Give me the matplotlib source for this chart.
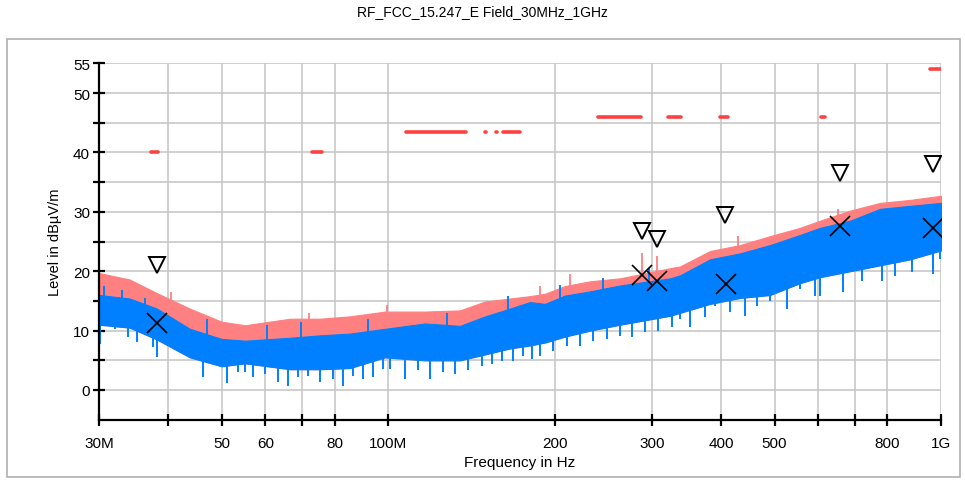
import matplotlib
matplotlib.use("Agg")
import matplotlib.pyplot as plt
from matplotlib.ticker import FixedLocator, FixedFormatter, NullFormatter
from matplotlib.patches import Rectangle

plt.rcParams['font.family'] = ['Liberation Sans', 'DejaVu Sans']

# ---- data (MHz, dBuV/m) ----
freq_mhz = [30, 34.1, 38.2, 43.8, 50, 55.1, 66.5, 75.3, 85.3, 98.7, 116.6, 134.9, 149.8,
            166.1, 180.5, 192.2, 208.9, 231.9, 262.7, 323.5, 337.3, 382.2, 432.9, 490.6,
            555.9, 604.2, 684.9, 775.9, 879.2, 1000]
peak_top = [19.7, 18.6, 16.3, 13.7, 11.5, 10.9, 12.0, 12.0, 12.4, 13.2, 13.2, 13.4, 14.9,
            15.4, 15.8, 16.2, 17.5, 18.3, 18.8, 20.5, 20.8, 23.4, 24.4, 25.9, 27.3, 28.5,
            30.2, 31.5, 32.0, 32.7]
avg_top = [16.0, 15.4, 13.7, 10.3, 8.6, 8.3, 8.8, 9.2, 9.5, 10.3, 11.2, 10.8, 12.4, 13.7,
           14.8, 14.5, 15.9, 16.6, 17.6, 18.8, 19.3, 22.0, 23.0, 24.4, 26.1, 27.3, 28.5,
           30.5, 31.0, 31.5]
avg_low = [11.0, 10.5, 8.5, 5.5, 4.0, 4.5, 3.5, 3.5, 3.7, 5.5, 5.0, 5.0, 6.0, 7.0, 7.5,
           8.0, 9.0, 10.0, 11.0, 12.5, 13.0, 14.5, 15.5, 16.0, 18.0, 19.0, 20.0, 21.0, 22.0,
           23.5]

# downward spikes of the average trace
dip_f = [30.1, 32.1, 33.9, 35.2, 37.5, 38.2, 41.6, 43.3, 46.3, 48.1, 51.1, 53.5,
         55.1, 56.9, 59.9, 63.2, 65.9, 68.7, 71.6, 75.3, 79.5, 82.9, 86.4, 90.1, 93.9, 97.9,
         100.8, 107.3, 113.3, 119.1, 125.7, 132.2, 139.5, 147.9, 154.1, 160.7, 168.2, 175.4,
         182.1,
         188.3, 198.7, 210.7, 222.4, 234.8, 248.9, 262.7, 276.1, 291.5, 307.8, 326.2,
         337.3, 351.6, 374.4, 390.3, 415.5, 442.2, 464.7, 490.6, 526.5, 555.9, 591.6,
         604.2, 665.1, 719.7, 782.4, 825.9, 886.5, 967.5, 996]
dip_lo = [7.8, 10.3, 9.0, 8.1, 7.3, 5.6, 6.9, 6.4, 2.2, 4.4, 1.1, 3.1,
          3.1, 2.2, 2.7, 1.4, 0.6, 2.2, 2.4, 1.4, 1.9, 0.6, 2.4, 1.9, 2.2, 3.6,
          3.6, 1.9, 3.3, 1.9, 3.1, 2.7, 3.3, 4.1, 4.4, 4.9, 4.8, 5.8, 5.3,
          5.8, 6.6, 7.4, 7.4, 8.3, 8.6, 9.1, 9.0, 9.8, 10.0, 10.6,
          11.9, 10.6, 12.3, 14.2, 13.2, 12.5, 14.2, 15.0, 13.7, 17.0, 15.9,
          15.9, 16.5, 18.4, 18.4, 19.2, 19.9, 19.6, 22.1]
dip_hi = [13.0, 13.0, 12.5, 12.0, 11.0, 10.0, 9.5, 9.0, 8.0, 7.0, 6.0, 6.0,
          6.0, 6.0, 5.5, 5.5, 5.5, 5.5, 5.5, 5.5, 5.5, 5.5, 5.5, 6.0, 6.5, 7.0,
          7.0, 7.0, 7.0, 7.0, 7.0, 7.0, 7.5, 8.0, 8.0, 8.5, 9.0, 9.5, 9.5,
          10.0, 10.5, 11.0, 11.5, 12.0, 12.5, 13.0, 13.5, 14.0, 14.5, 15.0,
          15.0, 15.5, 16.0, 16.5, 17.0, 17.5, 18.0, 18.5, 19.0, 19.5, 20.0,
          20.5, 21.0, 21.5, 22.0, 22.5, 23.0, 23.5, 24.0]

# upward spikes of the average trace (into the peak band)
bup_f = [30.6, 33.0, 36.4, 47.0, 60.5, 69.5, 92.0, 128.0, 165.0, 205.0, 245.0, 296.0]
bup_lo = [14.0, 13.5, 12.0, 8.0, 7.5, 8.0, 9.0, 10.0, 13.0, 15.0, 16.0, 18.0]
bup_hi = [17.5, 16.8, 15.5, 12.0, 11.0, 11.5, 12.0, 13.0, 15.8, 17.6, 18.8, 20.6]

# upward spikes of the peak trace
spk_f = [40.5, 72.0, 99.6, 188.0, 213.0, 287.9, 306.4, 430.0, 650.0]
spk_lo = [13.0, 10.0, 11.0, 14.5, 16.0, 18.0, 17.5, 22.0, 27.0]
spk_hi = [16.5, 13.0, 14.3, 17.5, 19.5, 23.0, 22.5, 26.0, 30.5]

# limit line segments
lim_start = [37.2, 72.9, 107.6, 150.0, 156.5, 161.6, 240, 320.5, 399, 607, 955]
lim_stop = [38.4, 75.8, 138.1, 150.6, 157.4, 173.2, 286.4, 338, 412.5, 616, 1000]
lim_level = [40, 40, 43.5, 43.5, 43.5, 43.5, 46, 46, 46, 46, 54]

# final peak (triangles) and quasi-peak (crosses) results
pk_f = [38.2, 287.5, 306.4, 407, 656, 967]
pk_v = [21.1, 26.8, 25.4, 29.4, 36.5, 38.1]
qp_f = [38.2, 287.5, 306.4, 408, 658, 968]
qp_v = [11.3, 19.4, 18.3, 17.9, 27.6, 27.2]

major_ticks = [30, 50, 60, 80, 100, 200, 300, 400, 500, 800, 1000]
major_labels = ['30M', '50', '60', '80', '100M', '200', '300', '400', '500', '800', '1G']
minor_ticks = [40, 70, 600, 700]

y_ticks = [0, 10, 20, 30, 40, 50, 55]
y_minor = [5, 15, 25, 35, 45]

# ---- figure ----
fig = plt.figure(figsize=(9.65, 4.81), dpi=100)
fig.patches.append(Rectangle((7 / 965, 3 / 481), 953 / 965, 438 / 481,
                             transform=fig.transFigure, fill=False,
                             edgecolor='#b0b0b0', linewidth=1.2))
fig.text(0.5, 1 - 12 / 481, 'RF_FCC_15.247_E Field_30MHz_1GHz', ha='center', va='center',
         fontsize=10)

ax = fig.add_axes([99 / 965, (481 - 420.7) / 481, 842 / 965, 356.4 / 481])
ax.set_xscale('log')
ax.set_xlim(30, 1000)
ax.set_ylim(-5, 55)

RED = '#ff8080'
BLUE = '#0080ff'

# traces
ax.fill_between(freq_mhz, avg_low, peak_top, color=RED, linewidth=0.8,
                edgecolor=RED, zorder=2)
ax.vlines(spk_f, spk_lo, spk_hi, color=RED, linewidth=1.3, zorder=2)
ax.fill_between(freq_mhz, avg_low, avg_top, color=BLUE, linewidth=0.8,
                edgecolor=BLUE, zorder=3)
ax.vlines(dip_f, dip_lo, dip_hi, color=BLUE, linewidth=1.4, zorder=3)
ax.vlines(bup_f, bup_lo, bup_hi, color=BLUE, linewidth=1.4, zorder=3)

# limits
ax.hlines(lim_level, lim_start, lim_stop, color='#ff4040', linewidth=2.6,
          capstyle='round', zorder=4)

# markers
ax.plot(pk_f, pk_v, linestyle='none', marker='v', markersize=12, markerfacecolor='none',
        markeredgecolor='black', markeredgewidth=1.4, zorder=5)
ax.plot(qp_f, qp_v, linestyle='none', marker='x', markersize=14, color='black',
        markeredgewidth=1.2, zorder=5)

# axes styling
ax.xaxis.set_major_locator(FixedLocator(major_ticks))
ax.xaxis.set_major_formatter(FixedFormatter(major_labels))
ax.xaxis.set_minor_locator(FixedLocator(minor_ticks))
ax.xaxis.set_minor_formatter(NullFormatter())
ax.yaxis.set_major_locator(FixedLocator(y_ticks))
ax.yaxis.set_minor_locator(FixedLocator(y_minor))

ax.grid(True, which='both', color='#c8c8c8', linewidth=1.2, zorder=0)
ax.set_axisbelow(True)
for s in ['top', 'right']:
    ax.spines[s].set_visible(False)
for s in ['left', 'bottom']:
    ax.spines[s].set_linewidth(1.6)
    ax.spines[s].set_zorder(6)
ax.tick_params(which='both', direction='inout', length=9, width=1.6, labelsize=11,
               colors='black')
ax.tick_params(axis='x', pad=7)
ax.tick_params(axis='y', pad=2)

ax.set_xlabel('Frequency in Hz', fontsize=11, labelpad=4)
ax.set_ylabel('Level in dBµV/m', fontsize=10.5, labelpad=8)

fig.savefig('out.png', dpi=100)
